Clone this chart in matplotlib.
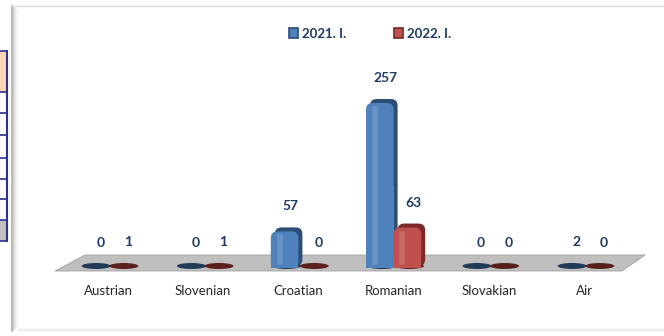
"""
Passenger traffic by border section chart (2021. I. vs 2022. I.)
"""
import matplotlib.pyplot as plt
from matplotlib.patches import Rectangle, Polygon, Ellipse, FancyBboxPatch

plt.rcParams['font.family'] = ['Lato', 'DejaVu Sans']

categories = ["Austrian", "Slovenian", "Croatian", "Romanian", "Slovakian", "Air"]
values_2021 = [0, 0, 57, 257, 0, 2]
values_2022 = [1, 1, 0, 63, 0, 0]
series_names = ["2021. I.", "2022. I."]

W, H = 664, 336
fig = plt.figure(figsize=(W / 100, H / 100), dpi=100)
fig.patch.set_facecolor('white')

# left table fragment (figure pixels)
tbl = fig.add_axes([0, 0, 1, 1], zorder=0)
tbl.set_xlim(0, W)
tbl.set_ylim(H, 0)
tbl.axis('off')
navy = '#2e3192'
tbl.add_patch(Rectangle((0, 51), 7, 41, facecolor='#fcd5b4', edgecolor='none'))
tbl.add_patch(Rectangle((0, 220), 7, 21, facecolor='#c0c0c0', edgecolor='none'))
for yy in [51, 92, 113, 135, 158, 179, 199, 220, 241]:
    tbl.plot([0, 7], [yy, yy], color=navy, lw=1.2)
tbl.plot([7, 7], [51, 241], color=navy, lw=1.5)

# chart frame with shadow
for i, c in enumerate(['#a6a6a6', '#bdbdbd', '#d0d0d0', '#e0e0e0', '#ececec', '#f4f4f4']):
    tbl.plot([12 + i, 12 + i], [6 + i, 331 - i], color=c, lw=1.1)
tbl.plot([12, 664], [6, 6], color='#dcdcdc', lw=1)
for i, c in enumerate(['#e8e8e8', '#f0f0f0', '#f6f6f6']):
    tbl.plot([18, 664], [330 - i, 330 - i], color=c, lw=1)

# floor (decoration)
tbl.add_patch(Polygon([(85, 255), (645, 255), (622, 271), (55, 271)],
                      closed=True, facecolor='#bfbfbf', edgecolor='#a0a0a0', lw=0.6))

# data axes: category i at pixel 108 + 95.2*i, value 0 at pixel 266, 0.642 px/unit
ax = fig.add_axes([0, 0, 1, 1], zorder=1)
ax.patch.set_alpha(0)
x0, dx = 108, 95.2
y0, k = 266, 0.642
ax.set_xlim((0 - x0) / dx, (W - x0) / dx)
ax.set_ylim((y0 - H) / k, y0 / k)
ax.axis('off')

bw = 0.29
px_x = 1 / dx
px_y = 1 / k
styles = [
    dict(face='#4f81bd', side='#2c4d75', base='#213a57'),
    dict(face='#c0504d', side='#7b2a28', base='#5a1f1d'),
]
for s, vals in enumerate([values_2021, values_2022]):
    st = styles[s]
    off = -bw / 2 if s == 0 else bw / 2
    for i, v in enumerate(vals):
        xc = i + off
        # base ellipse
        ax.add_patch(Ellipse((xc + 2 * px_x, 0), bw * 1.05, 6 * px_y,
                             facecolor=st['base'], edgecolor='none', zorder=2))
        if v > 0 and v * k > 4:
            # dark back/side body, shifted right and up
            ax.add_patch(FancyBboxPatch((xc - bw / 2 + 4 * px_x, 0), bw, v + 2 * px_y,
                                        boxstyle="round,pad=0,rounding_size=0.07",
                                        mutation_aspect=px_y / px_x,
                                        facecolor=st['side'], edgecolor='none', zorder=3))
            # front face with rounded top
            ax.add_patch(FancyBboxPatch((xc - bw / 2, -2 * px_y), bw, v,
                                        boxstyle="round,pad=0,rounding_size=0.07",
                                        mutation_aspect=px_y / px_x,
                                        facecolor=st['face'], edgecolor='none', zorder=4))
            ax.bar(xc, v * 0.5, width=bw, bottom=-2 * px_y, color=st['face'],
                   edgecolor='none', zorder=4)
            # highlight
            ax.plot([xc - bw * 0.18, xc - bw * 0.18], [4 * px_y, v - 8 * px_y],
                    color='white', alpha=0.15, lw=4, zorder=5)
        # value label
        ax.text(xc + 6 * px_x, v + 23 * px_y, str(v), ha='center', va='center',
                fontsize=10, fontweight='bold', color='#1f3864', zorder=6)

for i, c in enumerate(categories):
    ax.text(i, (y0 - 291) / k, c, ha='center', va='center',
            fontsize=9.5, color='#262626')

handles = [Rectangle((0, 0), 1, 1, facecolor=st['face'], edgecolor=st['side'], lw=1.2)
           for st in styles]
leg = ax.legend(handles, series_names, loc='center', bbox_to_anchor=(0.557, 0.90),
                ncol=2, frameon=False, handlelength=0.7, handleheight=0.7,
                handletextpad=0.3, columnspacing=3.6,
                prop={'weight': 'bold', 'size': 9.5})
for t in leg.get_texts():
    t.set_color('#1f3864')

fig.savefig('out.png', dpi=100, facecolor='white')
